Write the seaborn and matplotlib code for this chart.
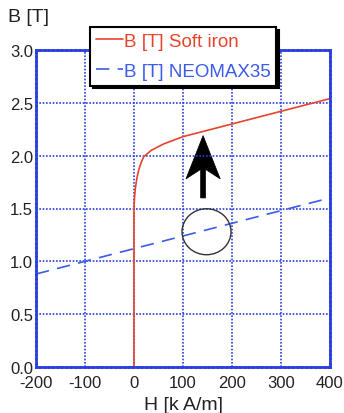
import numpy as np
import pandas as pd
import matplotlib
matplotlib.use("Agg")
import matplotlib.pyplot as plt
import seaborn as sns
from matplotlib.patches import Ellipse, Polygon

sns.set_theme(style="white")
plt.rcParams['font.family'] = ['Liberation Sans', 'DejaVu Sans']

# Data
iron_H = [0, 0, 1, 3, 6, 10, 15, 20, 30, 35, 60, 100, 200, 300, 400]
iron_B = [0, 1.50, 1.60, 1.70, 1.79, 1.87, 1.94, 1.99, 2.03, 2.05, 2.11, 2.18, 2.30, 2.42, 2.54]
neo_H = [-200, 400]
neo_B = [0.88, 1.60]
xticks = [-200, -100, 0, 100, 200, 300, 400]
yticks = [0.0, 0.5, 1.0, 1.5, 2.0, 2.5, 3.0]

iron = pd.DataFrame({"H": iron_H, "B": iron_B})
neo = pd.DataFrame({"H": neo_H, "B": neo_B})

fig = plt.figure(figsize=(3.44, 4.14), dpi=100)
ax = fig.add_axes([36/344, 1-368/414, (330-36)/344, (368-51)/414])

blue = "#2a3fe0"
sns.lineplot(data=iron, x="H", y="B", ax=ax, color="#e8432c", lw=1.2,
             label="B [T] Soft iron", sort=False, estimator=None)
sns.lineplot(data=neo, x="H", y="B", ax=ax, color="#3a5ce8", lw=1.2,
             label="B [T] NEOMAX35", estimator=None)
ax.lines[1].set_dashes([8, 5])

ax.set_xlim(-200, 400)
ax.set_ylim(0, 3.0)
ax.set_xticks(xticks)
ax.set_yticks(yticks)
ax.set_xticklabels([str(t) for t in xticks], fontsize=12)
ax.set_yticklabels([f"{t:.1f}" for t in yticks], fontsize=12)
ax.set_axisbelow(True)
ax.grid(True, color=blue, ls=(0, (1, 1)), lw=1.2, zorder=3)
for s in ax.spines.values():
    s.set_color(blue)
    s.set_linewidth(2)
    s.set_linestyle((0, (1, 0.6)))
ax.tick_params(direction="in", colors=blue, length=3, labelcolor="#222222")
ax.tick_params(axis="x", pad=6)
ax.tick_params(axis="y", pad=2)
ax.set_xlabel("H [k A/m]", fontsize=14, color="#222222", labelpad=4)
ax.set_ylabel("")
fig.text(8/344, 1-18/414, "B [T]", fontsize=14, color="#222222", va="center", ha="left")

# Arrow (swept-back head) and circle
ax_x, tip = 141, 2.19
arrow = Polygon([(ax_x, tip), (ax_x + 35, 1.78), (ax_x + 5, 1.87), (ax_x + 5, 1.60),
                 (ax_x - 5, 1.60), (ax_x - 5, 1.87), (ax_x - 35, 1.78)],
                closed=True, facecolor="black", edgecolor="black", lw=0.5, zorder=0.4)
ax.add_patch(arrow)
ax.add_patch(Ellipse((148, 1.28), 100, 0.435, fill=False, edgecolor="#333333", lw=1.0, zorder=5))

leg = ax.legend(loc="upper left", bbox_to_anchor=((90-36)/294, (368-28)/317),
                fontsize=13.5, frameon=True, shadow={'color': 'black', 'alpha': 1},
                handlelength=1.45, handletextpad=0.05, borderpad=0.3, labelspacing=0.7,
                fancybox=False, framealpha=1, borderaxespad=0)
leg.get_frame().set_edgecolor("black")
leg.get_frame().set_linewidth(1.5)
for t, c in zip(leg.get_texts(), ["#e8432c", "#3a5ce8"]):
    t.set_color(c)
leg.set_zorder(10)

fig.savefig("out.png", dpi=100)
